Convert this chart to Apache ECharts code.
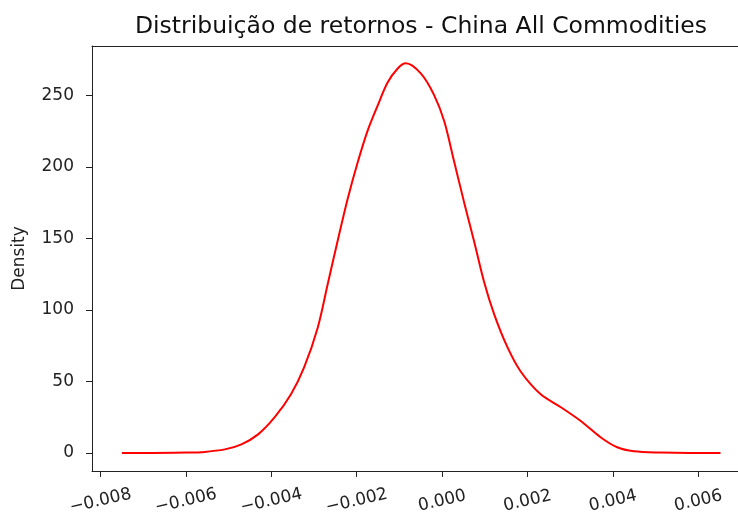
<!DOCTYPE html>
<html>
<head>
<meta charset="utf-8">
<script src="https://cdn.jsdelivr.net/npm/echarts@6/dist/echarts.min.js"></script>
<style>
  html, body { margin: 0; padding: 0; background: #fff; }
  #chart { width: 738px; height: 517px; }
</style>
</head>
<body>
<div id="chart"></div>
<script>
// retornos (x) e densidade estimada (KDE)
const retornos = [
  -0.00750, -0.00681, -0.00588, -0.00564, -0.00509, -0.00470, -0.00431, -0.00392,
  -0.00354, -0.00323, -0.00291, -0.00268, -0.00245, -0.00221, -0.00198, -0.00175,
  -0.00151, -0.00128, -0.00104, -0.00085, -0.00050, -0.00019, 0.00005, 0.00028,
  0.00051, 0.00075, 0.00098, 0.00122, 0.00153, 0.00184, 0.00231, 0.00278,
  0.00324, 0.00371, 0.00410, 0.00449, 0.00511, 0.00581, 0.00652
]
const densidade = [
  0, 0, 0.3, 0.5, 2.5, 6, 13, 25,
  41, 60, 88, 118, 148, 178, 203, 225,
  243, 259, 269, 272.6, 265.5, 250.5, 232, 204,
  176, 148, 120, 97, 74, 57, 41, 32,
  22.5, 11, 4, 1.2, 0.3, 0, 0
]
const xTicks = [-0.008, -0.006, -0.004, -0.002, 0, 0.002, 0.004, 0.006]
const yTicks = [0, 50, 100, 150, 200, 250]

const chart = echarts.init(document.getElementById('chart'))
const font = '"DejaVu Sans", sans-serif'
const pontos = retornos.map((x, i) => [x, densidade[i]])
const xMin = -0.0082
const xMax = 0.00693

const option = {
  animation: false,
  title: {
    text: 'Distribuição de retornos - China All Commodities',
    left: 416,
    top: 10,
    textAlign: 'center',
    textStyle: { fontFamily: font, fontSize: 23.5, fontWeight: 'normal', color: '#111' }
  },
  grid: {
    left: 92,
    top: 46,
    right: 0,
    bottom: 45
  },
  xAxis: [{
    type: 'value',
    min: xMin,
    max: xMax,
    splitLine: { show: false },
    axisLine: { show: true, onZero: false, lineStyle: { color: '#222', width: 1 } },
    axisTick: { show: true, customValues: xTicks, length: 6, lineStyle: { color: '#222' } },
    axisLabel: {
      customValues: xTicks,
      rotate: 13,
      align: 'center',
      verticalAlign: 'middle',
      margin: 30,
      fontFamily: font,
      fontSize: 17,
      color: '#222',
      formatter: v => v.toFixed(3).replace('-', '\u2212')
    }
  }, {
    // linha superior do quadro
    type: 'value',
    position: 'top',
    min: xMin,
    max: xMax,
    splitLine: { show: false },
    axisLine: { show: true, onZero: false, lineStyle: { color: '#222', width: 1 } },
    axisTick: { show: false },
    axisLabel: { show: false }
  }],
  yAxis: {
    type: 'value',
    min: -12.6,
    max: 284.7,
    name: 'Density',
    nameLocation: 'middle',
    nameGap: 64,
    nameTextStyle: { fontFamily: font, fontSize: 17, color: '#222' },
    splitLine: { show: false },
    axisLine: { show: true, onZero: false, lineStyle: { color: '#222', width: 1 } },
    axisTick: { show: true, customValues: yTicks, length: 6, lineStyle: { color: '#222' } },
    axisLabel: {
      customValues: yTicks,
      margin: 18,
      fontFamily: font,
      fontSize: 17,
      color: '#222'
    }
  },
  series: [{
    type: 'line',
    data: pontos,
    smooth: 0.3,
    showSymbol: false,
    lineStyle: { color: '#ff0000', width: 2 }
  }]
}
chart.setOption(option)
</script>
</body>
</html>
